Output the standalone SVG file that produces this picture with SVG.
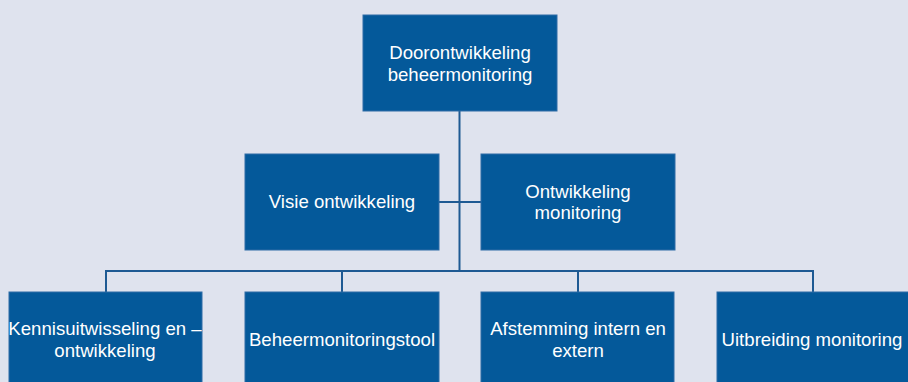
<svg xmlns="http://www.w3.org/2000/svg" width="908" height="382" viewBox="0 0 908 382">
<style>
.box{fill:#04599A;stroke:#2E6CA6;stroke-width:1}
.lbl{font-family:"Liberation Sans",Arial,sans-serif;font-size:18.6px;fill:#FFFFFF;text-anchor:middle}
.con{fill:none;stroke:#1E5A93;stroke-width:2}
</style>
<rect width="908" height="382" fill="#DFE3EE"/>
<g id="connectors">
<path class="con" d="M459.5 111 V271"/>
<path class="con" d="M439 202 H481"/>
<path class="con" d="M106 292 V271 H813 V292"/>
<path class="con" d="M342 271 V292"/>
<path class="con" d="M578 271 V292"/>
</g>
<g id="n-top">
<rect class="box" x="363" y="15" width="194" height="96"/>
<text class="lbl" x="460" y="59">Doorontwikkeling</text>
<text class="lbl" x="460" y="81">beheermonitoring</text>
</g>
<g id="n-visie">
<rect class="box" x="245" y="154" width="194" height="96"/>
<text class="lbl" x="342" y="208">Visie ontwikkeling</text>
</g>
<g id="n-ontw">
<rect class="box" x="481" y="154" width="194" height="96"/>
<text class="lbl" x="578" y="198">Ontwikkeling</text>
<text class="lbl" x="578" y="219">monitoring</text>
</g>
<g id="n-kennis">
<rect class="box" x="9" y="292" width="193" height="96"/>
<text class="lbl" x="105" y="335">Kennisuitwisseling en –</text>
<text class="lbl" x="105" y="357">ontwikkeling</text>
</g>
<g id="n-tool">
<rect class="box" x="245" y="292" width="194" height="96"/>
<text class="lbl" x="342" y="346">Beheermonitoringstool</text>
</g>
<g id="n-afst">
<rect class="box" x="481" y="292" width="193" height="96"/>
<text class="lbl" x="578" y="335">Afstemming intern en</text>
<text class="lbl" x="578" y="357">extern</text>
</g>
<g id="n-uitb">
<rect class="box" x="717" y="292" width="196" height="96"/>
<text class="lbl" x="812" y="346">Uitbreiding monitoring</text>
</g>
</svg>
